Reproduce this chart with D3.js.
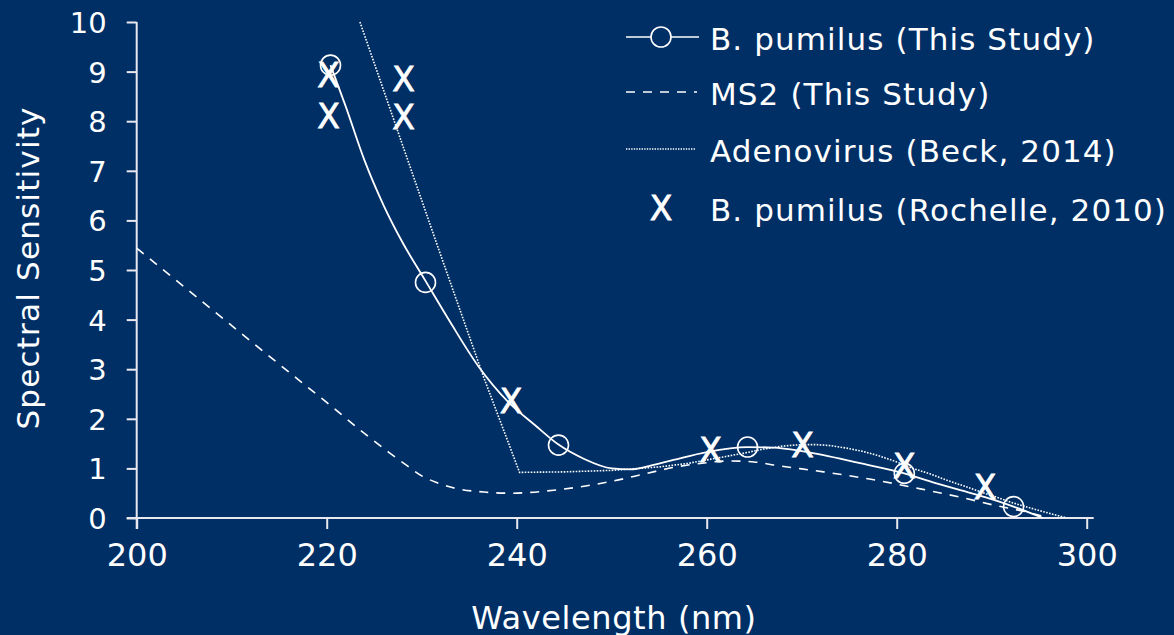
<!DOCTYPE html>
<html>
<head>
<meta charset="utf-8">
<script src="https://cdn.jsdelivr.net/npm/d3@7"></script>
<style>
  html, body { margin: 0; padding: 0; background: #002f66; }
  svg { display: block; }
  text { font-family: "DejaVu Sans", sans-serif; fill: #fff; }
</style>
</head>
<body>
<svg id="chart" width="1174" height="635"></svg>
<script>
// B. pumilus (this study) - smooth curve and measured points
var bpWave = [220.4, 222, 224, 226, 228, 230.4, 233, 236, 239, 242, 244.4, 247, 250, 252, 254, 256.5, 260, 264.3, 267, 270, 272.3, 276, 280.8, 284, 286.7, 289.3, 292.3, 295.4];
var bpSens = [9.13, 8.3, 7.2, 6.3, 5.55, 4.78, 3.95, 3.05, 2.36, 1.86, 1.48, 1.2, 1.0, 0.98, 1.05, 1.17, 1.33, 1.43, 1.42, 1.35, 1.27, 1.11, 0.9, 0.71, 0.56, 0.42, 0.23, 0];
var bpPtWave = [220.4, 230.4, 244.4, 264.3, 280.8, 292.3];
var bpPtSens = [9.13, 4.75, 1.47, 1.43, 0.9, 0.23];

// MS2 (this study)
var ms2Wave = [200, 205, 210, 215, 220, 224, 226.5, 228.5, 230, 231.5, 233.3, 236.8, 239.3, 243.9, 247.4, 250, 253.7, 256.5, 259.3, 262.5, 265, 267, 272.3, 277.3, 283.2, 286.7, 290.2, 293.7, 296];
var ms2Sens = [5.44, 4.66, 3.88, 3.1, 2.33, 1.7, 1.33, 1.05, 0.85, 0.72, 0.61, 0.52, 0.5, 0.56, 0.65, 0.74, 0.9, 1.02, 1.1, 1.15, 1.13, 1.07, 0.93, 0.78, 0.56, 0.42, 0.26, 0.12, 0];

// Adenovirus (Beck, 2014)
var adWave = [223.5, 232, 236.5, 240.3, 245, 250, 255, 258, 260, 262, 264, 266, 268, 270, 271.5, 273, 274.7, 276.5, 278.2, 280, 281.7, 283.5, 285.3, 287, 288.8, 290.5, 292.3, 295, 297.9];
var adSens = [10, 5.3, 2.85, 0.92, 0.93, 0.96, 1.03, 1.1, 1.17, 1.24, 1.31, 1.39, 1.45, 1.48, 1.48, 1.46, 1.41, 1.34, 1.25, 1.13, 1.0, 0.89, 0.76, 0.65, 0.53, 0.42, 0.3, 0.15, 0];

// B. pumilus (Rochelle, 2010)
var rochWave = [220.2, 220.2, 228.1, 228.1, 239.4, 260.4, 270.1, 280.8, 289.3];
var rochSens = [8.92, 8.1, 8.85, 8.08, 2.36, 1.36, 1.47, 1.05, 0.62];

var xTicks = [200, 220, 240, 260, 280, 300];
var yTicks = [0, 1, 2, 3, 4, 5, 6, 7, 8, 9, 10];

var legendLabels = ["B. pumilus (This Study)", "MS2 (This Study)", "Adenovirus (Beck, 2014)", "B. pumilus (Rochelle, 2010)"];

var svg = d3.select("#chart");

var x = d3.scaleLinear().domain([200, 300]).range([136.7, 1086.7]);
var y = d3.scaleLinear().domain([0, 10]).range([518, 22]);

function zip(a, b) {
    return a.map(function (d, i) { return [d, b[i]]; });
}

// axes
var xAxis = svg.append("g")
    .attr("transform", "translate(0," + y(0) + ")")
    .call(d3.axisBottom(x).tickValues(xTicks).tickSize(11).tickSizeOuter(0).tickPadding(14));
var yAxis = svg.append("g")
    .attr("transform", "translate(" + x(200) + ",0)")
    .call(d3.axisLeft(y).tickValues(yTicks).tickSize(10).tickSizeOuter(0).tickPadding(20));

svg.selectAll(".domain").remove();
svg.selectAll(".tick line").attr("stroke", "#e8e8ee").attr("stroke-width", 2);
xAxis.selectAll("text").style("font-size", "32px").style("font-family", "'DejaVu Sans'").attr("fill", "#fff");
yAxis.selectAll("text").style("font-size", "29px").style("font-family", "'DejaVu Sans'").attr("fill", "#fff").attr("dy", "0.36em");

svg.append("line")
    .attr("x1", x(200) - 10).attr("x2", x(300) + 7)
    .attr("y1", y(0)).attr("y2", y(0))
    .attr("stroke", "#e8e8ee").attr("stroke-width", 2);
svg.append("line")
    .attr("x1", x(200)).attr("x2", x(200))
    .attr("y1", y(10)).attr("y2", y(0) + 11)
    .attr("stroke", "#e8e8ee").attr("stroke-width", 2);

// axis titles
svg.append("text")
    .attr("x", 614).attr("y", 629)
    .attr("text-anchor", "middle")
    .style("font-size", "32px")
    .style("letter-spacing", "0.6px")
    .text("Wavelength (nm)");
svg.append("text")
    .attr("transform", "translate(39,268) rotate(-90)")
    .attr("text-anchor", "middle")
    .style("font-size", "31px")
    .style("letter-spacing", "1.2px")
    .text("Spectral Sensitivity");

// series
var smooth = d3.line().x(function (d) { return x(d[0]); }).y(function (d) { return y(d[1]); }).curve(d3.curveMonotoneX);
var straight = d3.line().x(function (d) { return x(d[0]); }).y(function (d) { return y(d[1]); });

svg.append("path")
    .datum(zip(ms2Wave, ms2Sens))
    .attr("d", smooth)
    .attr("fill", "none").attr("stroke", "#fff").attr("stroke-width", 1.6)
    .attr("stroke-dasharray", "9,8");

svg.append("path")
    .datum(zip(adWave, adSens))
    .attr("d", straight)
    .attr("fill", "none").attr("stroke", "#fff").attr("stroke-width", 1.6)
    .attr("stroke-dasharray", "1.6,1.4");

svg.append("path")
    .datum(zip(bpWave, bpSens))
    .attr("d", smooth)
    .attr("fill", "none").attr("stroke", "#fff").attr("stroke-width", 1.8);

svg.selectAll("circle.bp")
    .data(zip(bpPtWave, bpPtSens))
    .enter().append("circle")
    .attr("class", "bp")
    .attr("cx", function (d) { return x(d[0]); })
    .attr("cy", function (d) { return y(d[1]); })
    .attr("r", 10)
    .attr("fill", "none").attr("stroke", "#fff").attr("stroke-width", 1.6);

svg.selectAll("text.roch")
    .data(zip(rochWave, rochSens))
    .enter().append("text")
    .attr("class", "roch")
    .attr("x", function (d) { return x(d[0]); })
    .attr("y", function (d) { return y(d[1]); })
    .attr("text-anchor", "middle")
    .attr("dy", "0.36em")
    .style("font-size", "33px")
    .style("stroke", "#fff").style("stroke-width", 0.8)
    .text("X");

// legend
var legY = [37, 92, 149, 208];
var leg = svg.append("g");
legendLabels.forEach(function (lab, i) {
    leg.append("text")
        .attr("x", 710).attr("y", legY[i] + 2)
        .attr("dy", "0.36em")
        .style("font-size", "31px")
        .style("letter-spacing", "1.1px")
        .text(lab);
});
leg.append("line").attr("x1", 626).attr("x2", 699).attr("y1", legY[0]).attr("y2", legY[0])
    .attr("stroke", "#fff").attr("stroke-width", 1.6);
leg.append("circle").attr("cx", 661).attr("cy", legY[0]).attr("r", 10)
    .attr("fill", "#002f66").attr("stroke", "#fff").attr("stroke-width", 1.6);
leg.append("line").attr("x1", 626).attr("x2", 697).attr("y1", legY[1]).attr("y2", legY[1])
    .attr("stroke", "#fff").attr("stroke-width", 1.6).attr("stroke-dasharray", "9,8");
leg.append("line").attr("x1", 626).attr("x2", 695).attr("y1", legY[2]).attr("y2", legY[2])
    .attr("stroke", "#fff").attr("stroke-width", 1.4).attr("stroke-dasharray", "1.4,1.2");
leg.append("text").attr("x", 661).attr("y", legY[3])
    .attr("text-anchor", "middle").attr("dy", "0.36em")
    .style("font-size", "33px")
    .style("stroke", "#fff").style("stroke-width", 0.8)
    .text("X");
</script>
</body>
</html>
